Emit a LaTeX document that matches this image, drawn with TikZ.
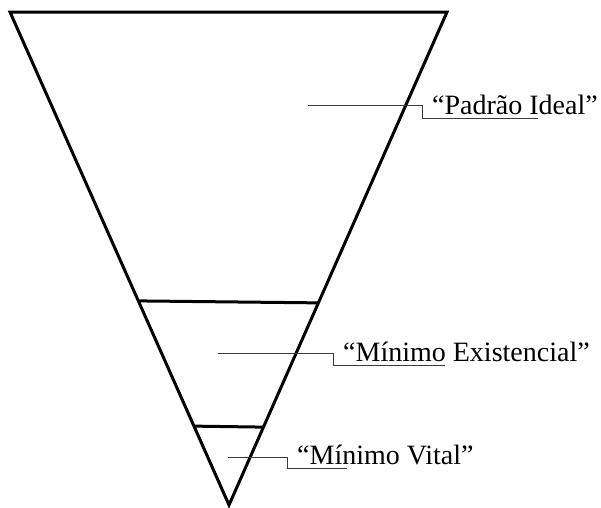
\documentclass[tikz,border=0pt]{standalone}
\usepackage{fontspec}
\setmainfont{Liberation Serif}
\usepackage{xcolor}
\definecolor{ink}{HTML}{000000}
\definecolor{lead}{HTML}{3A3A3A}
\usetikzlibrary{calc}

\begin{document}
\begin{tikzpicture}[x=1pt,y=-1pt,
  edge/.style={ink,line width=3pt,line join=miter},
  leader/.style={lead,line width=0.9pt},
  tag/.style={font=\fontsize{28}{32}\selectfont,inner sep=0pt,anchor=base west}]
  \useasboundingbox (0,0) rectangle (601,507);
  % inverted triangle (exaggerated levels)
  \coordinate (tl) at (10,12);
  \coordinate (tr) at (447,12);
  \coordinate (tip) at (229,505);
  \draw[edge] (tl) -- (tr) -- (tip) -- cycle;
  % level dividers
  \draw[edge] ($(tl)!0.586!(tip)$) -- ($(tr)!0.590!(tip)$);
  \draw[edge] ($(tl)!0.840!(tip)$) -- ($(tr)!0.842!(tip)$);
  % labels + stepped leaders
  \foreach \nm/\sx/\sy/\kx/\uy/\ul/\txt in {
      ideal/308/105/422/118/116/{“Padrão Ideal”},
      exist/218/353/333/365/112/{“Mínimo Existencial”},
      vital/228/457/287/468/60/{“Mínimo Vital”}} {
    \node[tag] (\nm) at (\kx+10,\uy-4) {\txt};
    \coordinate (\nm-in) at (\sx,\sy);
    \draw[leader] (\nm-in) -| ($(\nm.base west)+(-10,4)$) -- ++(\ul,0);
  }
\end{tikzpicture}
\end{document}
